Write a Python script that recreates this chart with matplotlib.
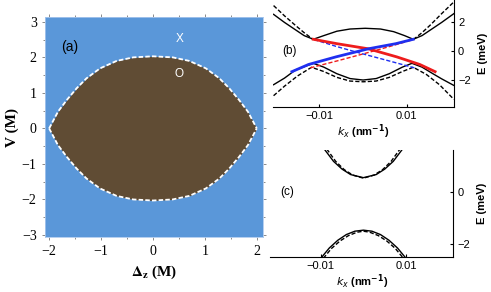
import matplotlib
matplotlib.use("Agg")
import matplotlib.pyplot as plt

BLUE_BG = "#5a97d9"
BROWN = "#604c34"
RED = "#ee1c1c"
BLUE = "#1f2ff0"

# ---- panel (a): phase boundary -------------------------------------------
dz = [-2.0, -1.83, -1.66, -1.47, -1.28, -1.02, -0.70, -0.38, 0.0,
      0.38, 0.70, 1.02, 1.28, 1.47, 1.66, 1.83, 2.0]
v_top = [0.0, 0.47, 0.80, 1.13, 1.41, 1.69, 1.90, 2.00, 2.03,
         2.00, 1.90, 1.69, 1.41, 1.13, 0.80, 0.47, 0.0]
v_bot = [-v for v in v_top]

# ---- panel (b): spectrum, E in meV vs k in nm^-1 --------------------------
k_up = [-0.0205, -0.018, -0.016, -0.0135, -0.0114, -0.009, -0.006, -0.003, 0.0005,
        0.004, 0.007, 0.0095, 0.0115, 0.0135, 0.016, 0.018, 0.0208]
e_up = [2.5, 1.95, 1.55, 1.05, 0.8, 1.05, 1.35, 1.5, 1.55,
        1.5, 1.32, 1.05, 0.8, 1.05, 1.55, 1.95, 2.55]

k_upd_l = [-0.0205, -0.018, -0.0155, -0.0135, -0.0114]
e_upd_l = [3.1, 2.4, 1.75, 1.25, 0.78]
k_upd_r = [0.0115, 0.0135, 0.0155, 0.018, 0.0208]
e_upd_r = [0.78, 1.25, 1.8, 2.55, 3.35]

k_lo = [-0.0205, -0.018, -0.0155, -0.0114, -0.009, -0.006, -0.003, 0.0, 0.003,
        0.006, 0.009, 0.0112, 0.0135, 0.016, 0.018, 0.0208]
e_lo = [-2.3, -1.85, -1.3, -0.84, -1.1, -1.55, -1.88, -1.98, -1.88,
        -1.55, -1.1, -0.84, -1.1, -1.55, -1.9, -2.35]

k_lod = [-0.0205, -0.018, -0.015, -0.0118, -0.009, -0.006, -0.003, 0.0, 0.003,
         0.006, 0.009, 0.0115, 0.0145, 0.0175, 0.0208]
e_lod = [-3.05, -2.4, -1.7, -1.11, -1.4, -1.8, -2.05, -2.1, -2.05,
         -1.8, -1.4, -1.11, -1.6, -2.3, -3.3]

k_red = [-0.0114, -0.006, 0.0012, 0.0077, 0.013, 0.0165]
e_red = [0.8, 0.5, 0.15, -0.4, -0.92, -1.41]
k_blue = [-0.0163, -0.0125, -0.0062, 0.0012, 0.0075, 0.0115]
e_blue = [-1.41, -0.92, -0.4, 0.15, 0.5, 0.8]

k_red_d = [-0.0121, -0.006, 0.0, 0.006, 0.0115]
e_red_d = [-1.15, -0.68, -0.2, 0.3, 0.78]
k_blue_d = [-0.0112, -0.006, 0.0, 0.006, 0.0118]
e_blue_d = [0.78, 0.3, -0.2, -0.68, -1.15]

# ---- panel (c) ---------------------------------------------------------------
kc_up = [-0.0092, -0.007, -0.005, -0.003, 0.0, 0.003, 0.005, 0.007, 0.0092]
ec_up = [1.68, 1.2, 0.9, 0.69, 0.57, 0.69, 0.9, 1.2, 1.68]
kc_upd = [-0.0086, -0.0065, -0.0045, -0.0025, 0.0, 0.0025, 0.0045, 0.0065, 0.0086]
ec_upd = [1.68, 1.2, 0.88, 0.67, 0.55, 0.67, 0.88, 1.2, 1.68]
kc_lo = [-0.0100, -0.008, -0.006, -0.004, -0.002, 0.0, 0.002, 0.004, 0.006, 0.008, 0.0100]
ec_lo = [-2.55, -2.15, -1.85, -1.63, -1.5, -1.46, -1.5, -1.63, -1.85, -2.15, -2.55]
kc_lod = [-0.0094, -0.0075, -0.0055, -0.0035, -0.0015, 0.0, 0.0015, 0.0035, 0.0055, 0.0075, 0.0094]
ec_lod = [-2.55, -2.17, -1.88, -1.67, -1.54, -1.5, -1.54, -1.67, -1.88, -2.17, -2.55]

fig = plt.figure(figsize=(4.91, 2.92), dpi=100)

serif = "Liberation Serif"
sans = "Liberation Sans"

# panel (a)
ax = fig.add_axes([0.0916, 0.188, 0.444, 0.753])
ax.set_facecolor(BLUE_BG)
ax.fill_between(dz, v_bot, v_top, color=BROWN, lw=0)
ax.plot(dz, v_top, color="white", lw=1.3, ls=(0, (2.5, 1.2)))
ax.plot(dz, v_bot, color="white", lw=1.3, ls=(0, (2.5, 1.2)))
ax.set_xlim(-2.08, 2.12)
ax.set_ylim(-3.06, 3.13)
for s in ax.spines.values():
    s.set_color("#a9c8ee")
    s.set_linewidth(0.6)
ax.set_xticks([-2, -1, 0, 1, 2])
ax.set_yticks([-3, -2, -1, 0, 1, 2, 3])
ax.set_xticks([-1.5, -0.5, 0.5, 1.5], minor=True)
ax.set_yticks([-2.5, -1.5, -0.5, 0.5, 1.5, 2.5], minor=True)
ax.tick_params(which="both", direction="out", length=2, width=0.6, color="#777777",
               top=True, right=True, labelsize=10, pad=4)
ax.tick_params(which="minor", length=1.2)
for lab in ax.get_xticklabels() + ax.get_yticklabels():
    lab.set_family(serif)
ax.set_xlabel(r"$\mathbf{\Delta_z}$ (M)", family=serif, fontsize=11,
              fontweight="bold", labelpad=4, math_fontfamily="stix")
ax.set_ylabel("V (M)", family=serif, fontsize=11, fontweight="bold", labelpad=2)
ax.text(-1.6, 2.3, "(a)", family=sans, fontsize=10, ha="center", va="center")
ax.text(0.51, 2.51, "X", family=sans, fontsize=8.5, color="white", ha="center", va="center")
ax.text(0.51, 1.53, "O", family=sans, fontsize=8.5, color="white", ha="center", va="center")


def style_right(ax, yt):
    ax.spines["top"].set_visible(False)
    ax.spines["left"].set_visible(False)
    ax.yaxis.tick_right()
    ax.yaxis.set_label_position("right")
    ax.set_xticks([-0.01, 0.01])
    ax.set_xticklabels(["\u22120.01", "0.01"])
    ax.set_yticks(yt)
    ax.tick_params(direction="in", length=2.5, width=0.8, labelsize=8, pad=3)
    for lab in ax.get_xticklabels() + ax.get_yticklabels():
        lab.set_family(sans)
    ax.set_xlabel(r"$\boldsymbol{k_x}$ (nm$^{\mathbf{-1}}$)", family=sans,
                  fontsize=8, fontweight="bold", labelpad=1)
    ax.set_ylabel("E (meV)", family=sans, fontsize=8, fontweight="bold",
                  labelpad=5)
    ax.patch.set_alpha(0)


# panel (b)
bx = fig.add_axes([0.5554, 0.6336, 0.369, 0.3664])
bx.plot(k_up, e_up, color="black", lw=1.0)
bx.plot(k_upd_l, e_upd_l, color="black", lw=1.0, ls=(0, (3, 1.5)))
bx.plot(k_upd_r, e_upd_r, color="black", lw=1.0, ls=(0, (3, 1.5)))
bx.plot(k_lo, e_lo, color="black", lw=1.0)
bx.plot(k_lod, e_lod, color="black", lw=1.0, ls=(0, (3, 1.5)))
bx.plot(k_red_d, e_red_d, color=RED, lw=1.0, ls=(0, (3, 1.5)))
bx.plot(k_blue_d, e_blue_d, color=BLUE, lw=1.0, ls=(0, (3, 1.5)))
bx.plot(k_red, e_red, color=RED, lw=2.0)
bx.plot(k_blue, e_blue, color=BLUE, lw=2.0)
bx.set_xlim(-0.0207, 0.0208)
bx.set_ylim(-3.82, 3.48)
style_right(bx, [-2, 0, 2])
bx.set_yticklabels(["\u22122", "0", "2"])
bx.text(-0.0185, 0.0, "(b)", family=sans, fontsize=8.5, va="center")

# panel (c)
cx = fig.add_axes([0.55, 0.1188, 0.3733, 0.3675])
cx.plot(kc_up, ec_up, color="black", lw=1.0)
cx.plot(kc_upd, ec_upd, color="black", lw=1.0, ls=(0, (3, 1.5)))
cx.plot(kc_lo, ec_lo, color="black", lw=1.0)
cx.plot(kc_lod, ec_lod, color="black", lw=1.0, ls=(0, (3, 1.5)))
cx.set_xlim(-0.0219, 0.0211)
cx.set_ylim(-2.51, 1.64)
style_right(cx, [-2, 0])
cx.set_yticklabels(["\u22122", "0"])
cx.text(-0.0195, 0.0, "(c)", family=sans, fontsize=8.5, va="center")

fig.savefig("out.png", dpi=100)
